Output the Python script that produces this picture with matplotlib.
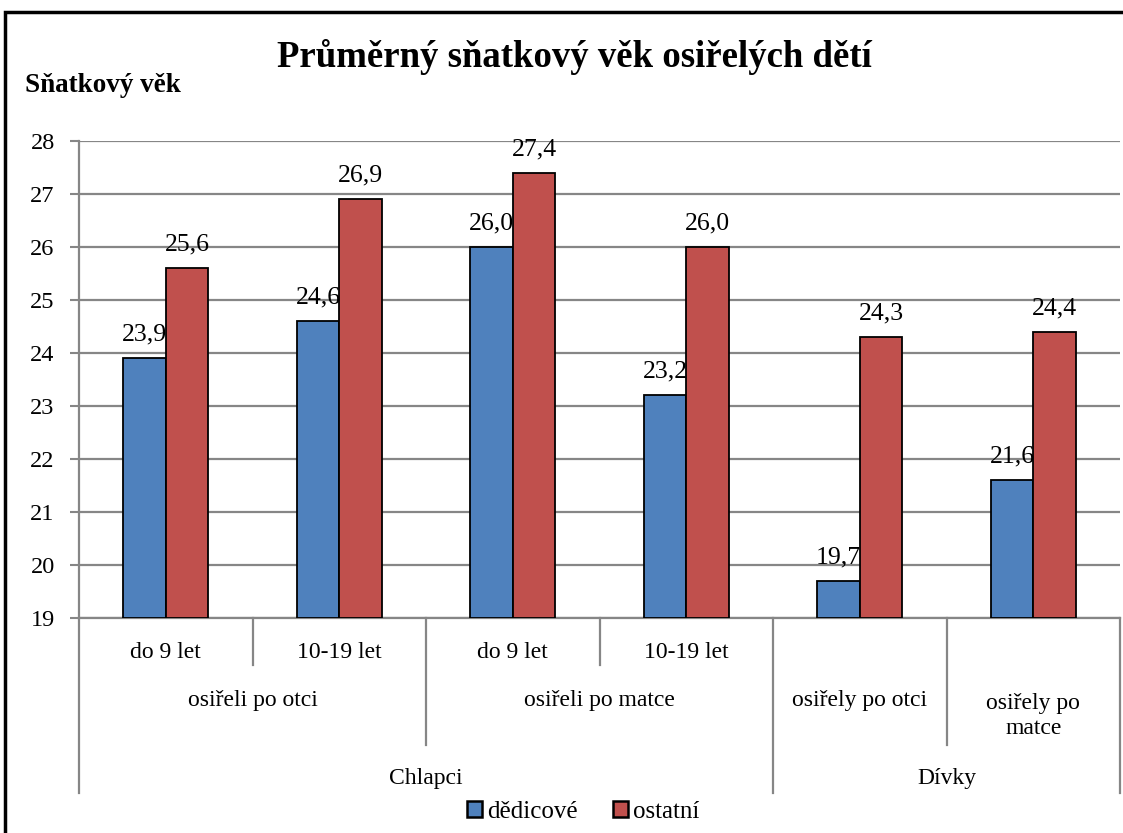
import matplotlib.pyplot as plt
import matplotlib.patches as mpatches
import numpy as np

# data
vek_skupiny = ['do 9 let', '10-19 let', 'do 9 let', '10-19 let', '', '']
sirotci = ['osiřeli po otci', 'osiřeli po matce', 'osiřely po otci', 'osiřely po\nmatce']
pohlavi = ['Chlapci', 'Dívky']
dedicove = [23.9, 24.6, 26.0, 23.2, 19.7, 21.6]
ostatni = [25.6, 26.9, 27.4, 26.0, 24.3, 24.4]
serie = ['dědicové', 'ostatní']

plt.rcParams['font.family'] = ['Liberation Serif', 'DejaVu Serif']
blue = '#4F81BD'
red = '#C0504D'
grid_col = '#868686'

W, H = 1123, 833
fig = plt.figure(figsize=(W / 100, H / 100), dpi=100)

# outer frame like the Excel chart area
fig.patches.append(mpatches.Rectangle((5 / W, -0.01), 1.2, 1 - 12 / H + 0.01,
                                      transform=fig.transFigure, fill=False,
                                      edgecolor='black', linewidth=2.5))

ax = fig.add_axes([79 / W, 1 - 618 / H, (1120 - 79) / W, (618 - 141) / H])

x = np.arange(len(dedicove)) + 0.5
bw = 0.245
ax.bar(x - bw / 2, [v - 19 for v in dedicove], bw, bottom=19, color=blue,
       edgecolor='black', linewidth=1.3, zorder=3)
ax.bar(x + bw / 2, [v - 19 for v in ostatni], bw, bottom=19, color=red,
       edgecolor='black', linewidth=1.3, zorder=3)

for xi, v in zip(x - bw / 2, dedicove):
    ax.text(xi, v + 0.33, f'{v:.1f}'.replace('.', ','), ha='center', va='baseline',
            fontsize=18.5, zorder=4)
for xi, v in zip(x + bw / 2, ostatni):
    ax.text(xi, v + 0.33, f'{v:.1f}'.replace('.', ','), ha='center', va='baseline',
            fontsize=18.5, zorder=4)

ax.set_xlim(0, 6)
ax.set_ylim(19, 28)
ax.set_yticks(range(19, 29))
ax.tick_params(axis='y', labelsize=17.5, color=grid_col, length=6.5, width=1.5, pad=11)
ax.set_xticks([])
ax.grid(axis='y', color=grid_col, linewidth=1.6, zorder=0)
for s in ['top', 'right']:
    ax.spines[s].set_visible(False)
for s in ['left', 'bottom']:
    ax.spines[s].set_color(grid_col)
    ax.spines[s].set_linewidth(1.6)

# multi-level category axis
tr = ax.get_xaxis_transform()
row1, row2, row3 = -0.0985, -0.266, -0.367
dividers = {0: row3, 1: row1, 2: row2, 3: row1, 4: row3, 5: row2, 6: row3}
for xd, yb in dividers.items():
    ax.plot([xd, xd], [0, yb], color=grid_col, linewidth=1.6, transform=tr, clip_on=False)

for xi, lab in zip(x, vek_skupiny):
    ax.text(xi, -0.072, lab, transform=tr, ha='center', va='center', fontsize=17)
for xi, lab in zip([1, 3, 4.5, 5.5], sirotci):
    ax.text(xi, -0.172 if '\n' not in lab else -0.205, lab, transform=tr,
            ha='center', va='center', fontsize=17, linespacing=1.25)
for xi, lab in zip([2, 5], pohlavi):
    ax.text(xi, -0.3375, lab, transform=tr, ha='center', va='center', fontsize=17)

fig.text(574 / W, 1 - 67 / H, 'Průměrný sňatkový věk osiřelých dětí', ha='center',
         va='baseline', fontsize=26.5, fontweight='bold')
fig.text(25 / W, 1 - 85 / H, 'Sňatkový věk', ha='left', va='center', fontsize=19.5,
         fontweight='bold')

handles = [mpatches.Patch(facecolor=blue, edgecolor='black', linewidth=1.8),
           mpatches.Patch(facecolor=red, edgecolor='black', linewidth=1.8)]
fig.legend(handles, serie, loc='center', bbox_to_anchor=(583 / W, 1 - 812 / H), ncol=2,
           frameon=False, fontsize=18, handlelength=0.6, handleheight=0.6,
           handletextpad=0.2, columnspacing=1.4, borderpad=0, borderaxespad=0)

fig.savefig('out.png', dpi=100)
